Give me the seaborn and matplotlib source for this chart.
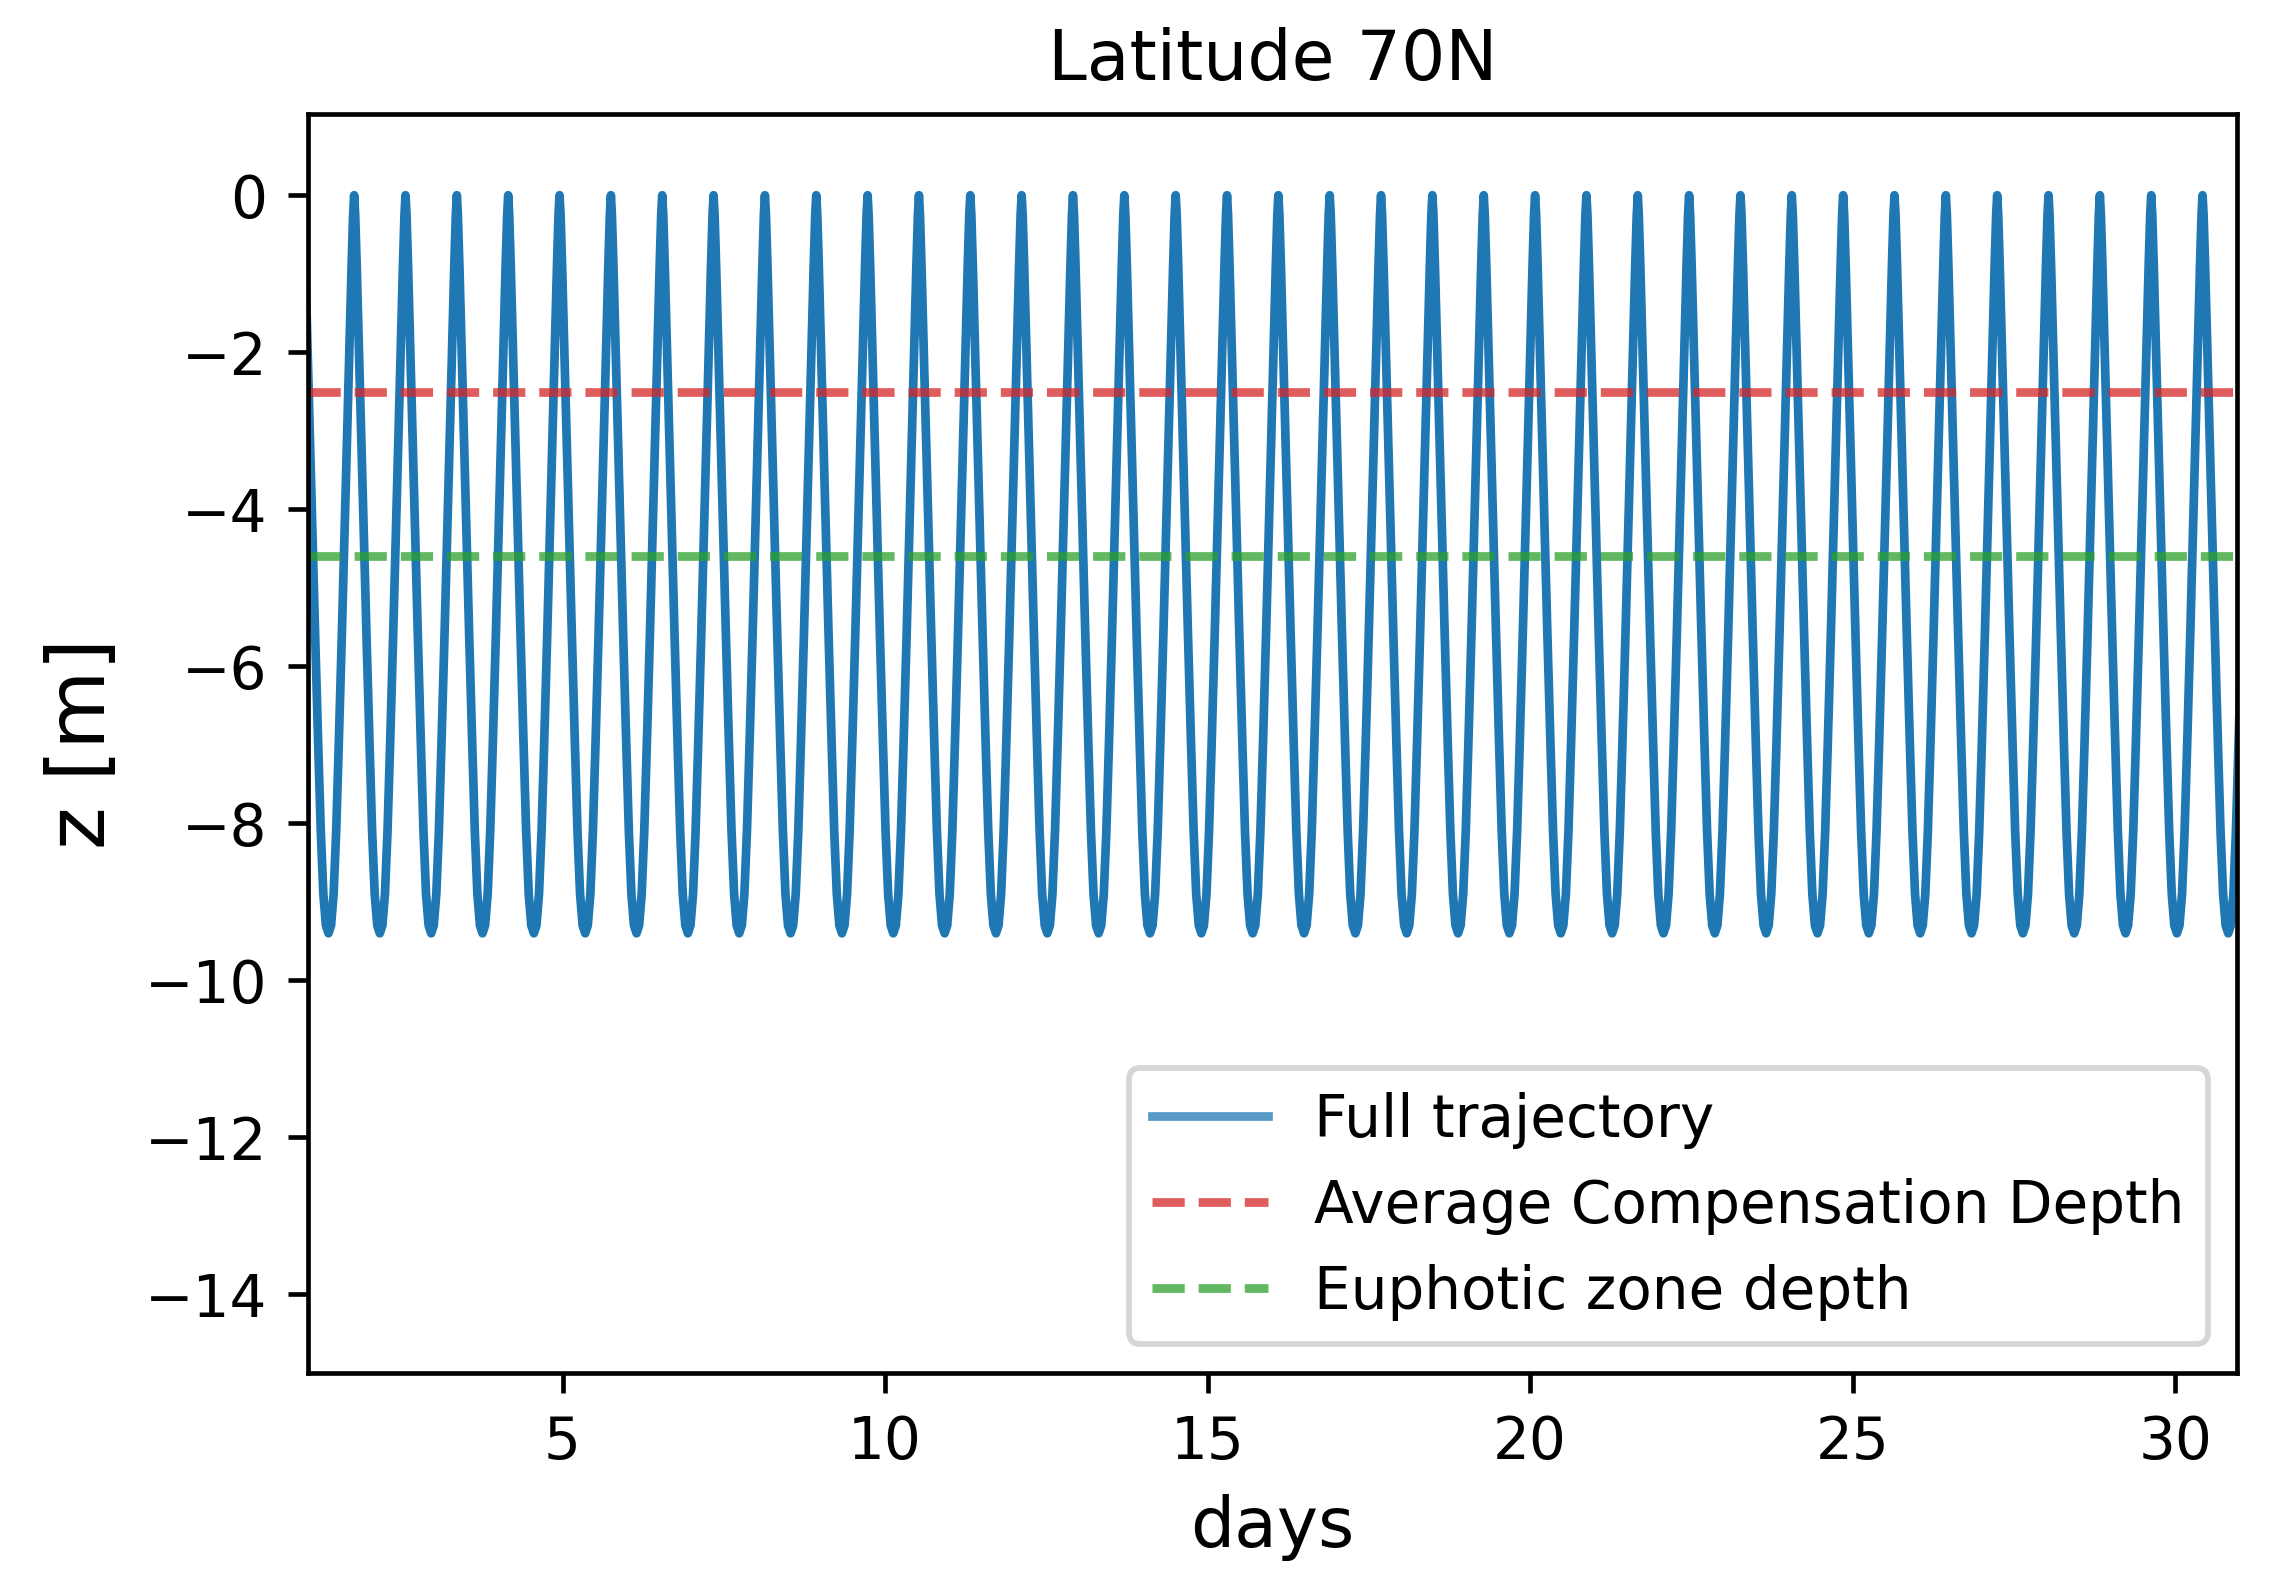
import numpy as np
import pandas as pd
import matplotlib
matplotlib.use("Agg")
import matplotlib.pyplot as plt
from matplotlib.lines import Line2D
import seaborn as sns

# ---- data ----
# times (days) of the surface maxima of the trajectory (z = 0)
peak_days = [0.974, 1.770, 2.566, 3.362, 4.158, 4.954, 5.750, 6.546, 7.342, 8.138,
             8.934, 9.730, 10.526, 11.322, 12.118, 12.914, 13.710, 14.506,
             15.302, 16.098, 16.894, 17.690, 18.486, 19.282, 20.078, 20.874,
             21.670, 22.466, 23.262, 24.058, 24.854, 25.650, 26.446, 27.242,
             28.038, 28.834, 29.630, 30.426, 31.222]
period_days = 0.796
# one half-cycle shape: fraction of period after a peak -> depth [m]
cycle_phase = [0.00, 0.02, 0.05, 0.09, 0.13, 0.18, 0.24, 0.30, 0.35, 0.40, 0.45, 0.50]
cycle_depth = [0.0, -0.25, -0.9, -1.9, -2.9, -4.1, -5.6, -7.0, -8.1, -8.9, -9.3, -9.4]

compensation_depth = -2.5
euphotic_depth = -4.6

title = "Latitude 70N"
labels = ["Full trajectory", "Average Compensation Depth", "Euphotic zone depth"]
xticks = [5, 10, 15, 20, 25, 30]
yticks = [0, -2, -4, -6, -8, -10, -12, -14]

# ---- assemble the trajectory from the read peaks and cycle shape ----
ph = np.array(cycle_phase)
dp = np.array(cycle_depth)
full_ph = np.concatenate([-ph[::-1], ph[1:]])
full_dp = np.concatenate([dp[::-1], dp[1:]])
xs, zs = [], []
for p in peak_days:
    xs.append(p + full_ph * period_days)
    zs.append(full_dp)
traj = pd.DataFrame({"days": np.concatenate(xs), "z": np.concatenate(zs)})
traj = traj.drop_duplicates("days").sort_values("days")

# ---- figure ----
DPI = 418
fig = plt.figure(figsize=(2275 / DPI, 1595 / DPI), dpi=DPI)
ax = fig.add_axes([0.1354, 0.1392, 0.9833 - 0.1354, 0.9283 - 0.1392])

sns.lineplot(data=traj, x="days", y="z", ax=ax, color="tab:blue", lw=1.5,
             estimator=None, sort=False, legend=False)
ax.axhline(compensation_depth, color="tab:red", ls="--", lw=1.5, alpha=0.75)
ax.axhline(euphotic_depth, color="tab:green", ls="--", lw=1.5, alpha=0.75)

ax.set_xlim(1.055, 30.96)
ax.set_ylim(-15.0, 1.03)
ax.set_xticks(xticks)
ax.set_yticks(yticks)
ax.set_xlabel("days", fontsize=12)
ax.set_ylabel("z [m]", fontsize=14)
ax.set_title(title, fontsize=12)

handles = [
    Line2D([], [], color="tab:blue", lw=1.5, alpha=0.75),
    Line2D([], [], color="tab:red", lw=1.5, ls="--", alpha=0.75),
    Line2D([], [], color="tab:green", lw=1.5, ls="--", alpha=0.75),
]
ax.legend(handles, labels, loc="lower right", fontsize=10)

fig.savefig("out.png", dpi=DPI)
